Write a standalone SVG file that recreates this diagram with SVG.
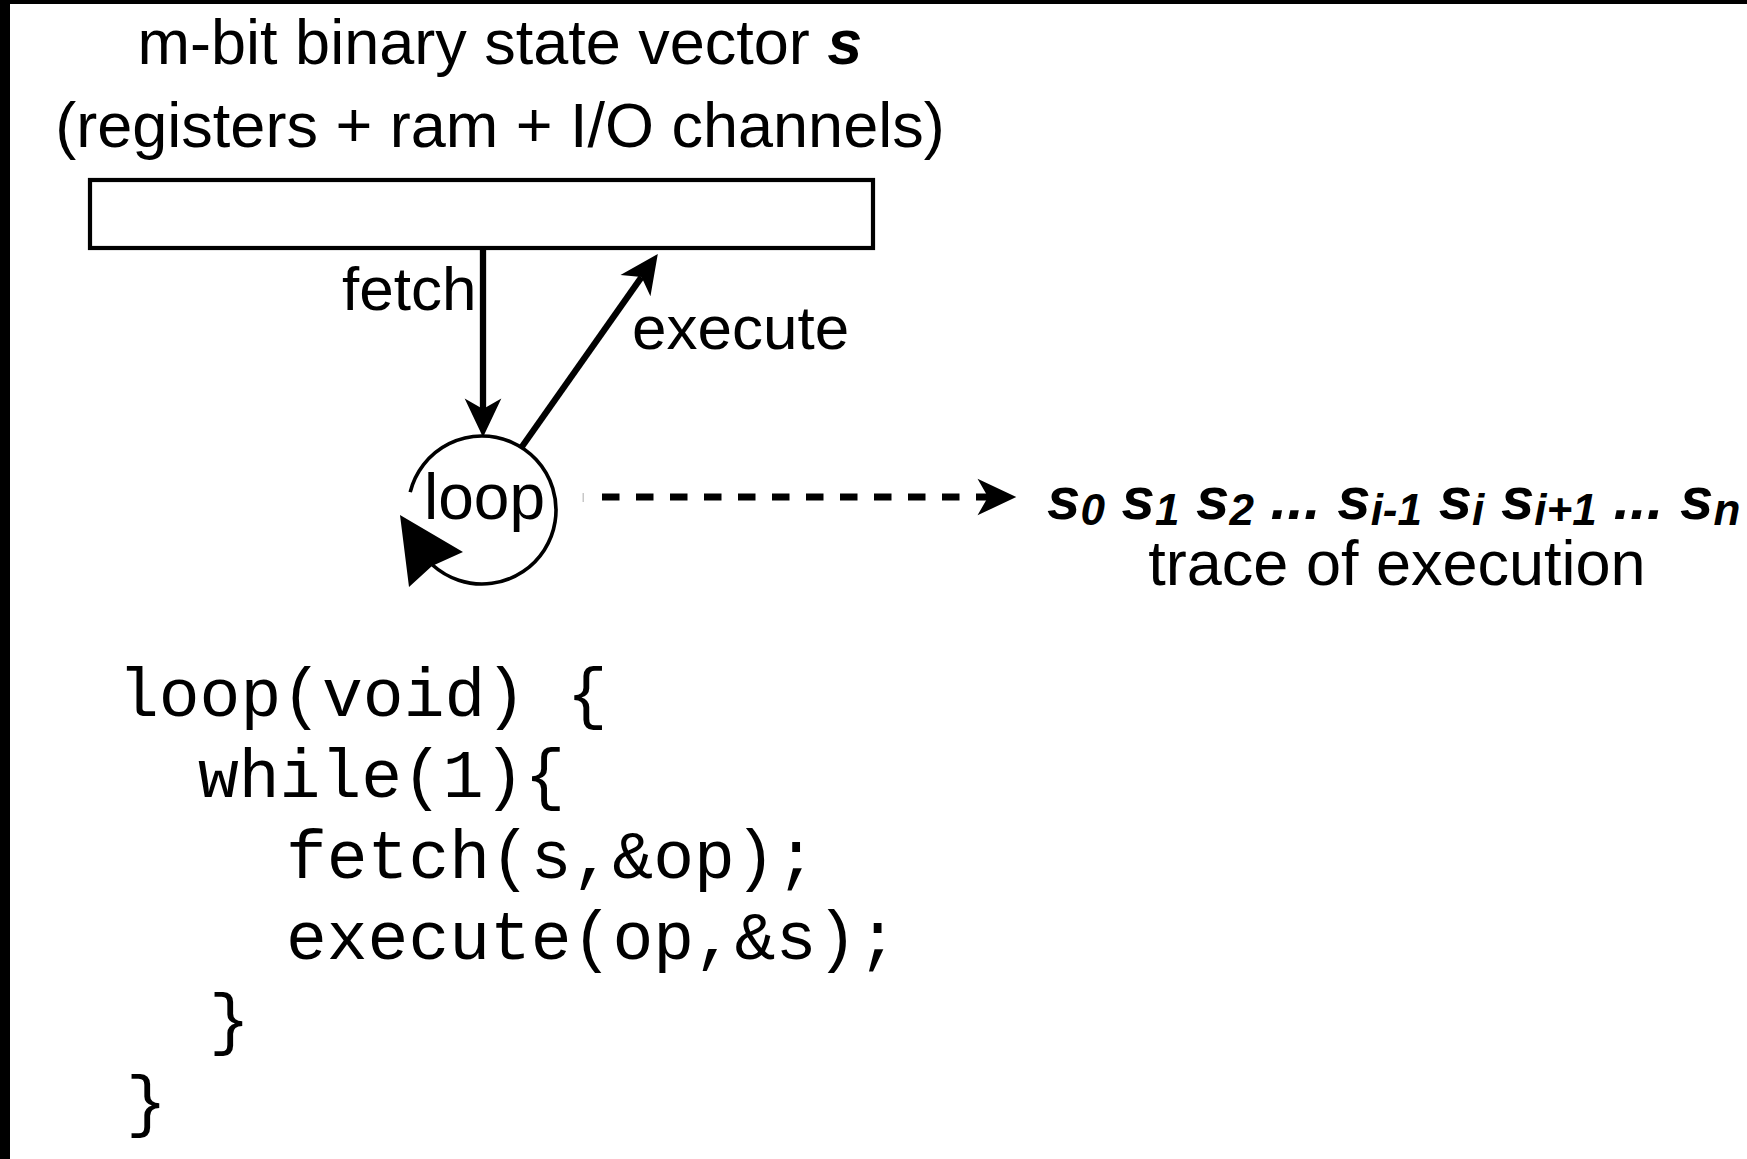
<svg xmlns="http://www.w3.org/2000/svg" width="1747" height="1159" viewBox="0 0 1747 1159">
<style>
.sans{font-family:"Liberation Sans",Arial,sans-serif;fill:#000}
.mono{font-family:"Liberation Mono","Courier New",monospace;fill:#000;font-size:68px}
.ln{stroke:#000;stroke-width:6.3;fill:none}
</style>
<defs>
<marker id="ah" markerUnits="userSpaceOnUse" markerWidth="44" markerHeight="44" viewBox="-12 -20 42 40" refX="0" refY="0" orient="auto">
<path d="M27,0 L-10,-17.5 L0,0 L-10,17.5 Z" fill="#000"/>
</marker>
</defs>
<rect x="0" y="0" width="1747" height="1159" fill="#fff"/>
<rect x="0" y="0" width="1747" height="4" fill="#000"/>
<rect x="0" y="0" width="10" height="1159" fill="#000"/>

<g id="state">
<text class="sans" x="500" y="64" font-size="63" text-anchor="middle">m-bit binary state vector <tspan font-weight="bold" font-style="italic">s</tspan></text>
<text class="sans" x="500" y="147" font-size="63" text-anchor="middle">(registers + ram + I/O channels)</text>
<rect x="90" y="180" width="783" height="68" fill="#fff" stroke="#000" stroke-width="4.2"/>
</g>

<g id="loop">
<path d="M410.2,492.1 A74,74 0 1 1 432.5,565" fill="none" stroke="#000" stroke-width="3.6"/>
<polygon points="400,515 463,552 432,566 409,587" fill="#000"/>
<text class="sans" x="424" y="519" font-size="64">loop</text>
</g>

<g id="trace">
<text class="sans" x="1047" y="519" font-size="60" font-weight="bold" font-style="italic">s<tspan font-size="44" dy="6">0</tspan><tspan dy="-6"> s</tspan><tspan font-size="44" dy="6">1</tspan><tspan dy="-6"> s</tspan><tspan font-size="44" dy="6">2</tspan><tspan dy="-6"> ... s</tspan><tspan font-size="44" dy="6">i-1</tspan><tspan dy="-6"> s</tspan><tspan font-size="44" dy="6">i</tspan><tspan dy="-6"> s</tspan><tspan font-size="44" dy="6">i+1</tspan><tspan dy="-6"> ... s</tspan><tspan font-size="44" dy="6">n</tspan></text>
<text class="sans" x="1397" y="585" font-size="63" text-anchor="middle">trace of execution</text>
</g>

<g id="code">
<text class="mono" x="118" y="716">loop(void) {</text>
<text class="mono" x="198" y="797">while(1){</text>
<text class="mono" x="286" y="878">fetch(s,&amp;op);</text>
<text class="mono" x="286" y="959">execute(op,&amp;s);</text>
<text class="mono" x="209" y="1042">}</text>
<text class="mono" x="126" y="1124">}</text>
</g>

<g id="connectors">
<line class="ln" x1="483" y1="248" x2="483" y2="409" marker-end="url(#ah)"/>
<text class="sans" x="342" y="310" font-size="62">fetch</text>
<line class="ln" x1="521.4" y1="447.5" x2="641.5" y2="277.1" marker-end="url(#ah)"/>
<text class="sans" x="632" y="349" font-size="62">execute</text>
<rect x="582.5" y="493" width="1.5" height="9" fill="#c8c8c8"/>
<line x1="602" y1="497" x2="988" y2="497" stroke="#000" stroke-width="7" stroke-dasharray="17.5 16.5" marker-end="url(#ah)"/>
</g>
</svg>
